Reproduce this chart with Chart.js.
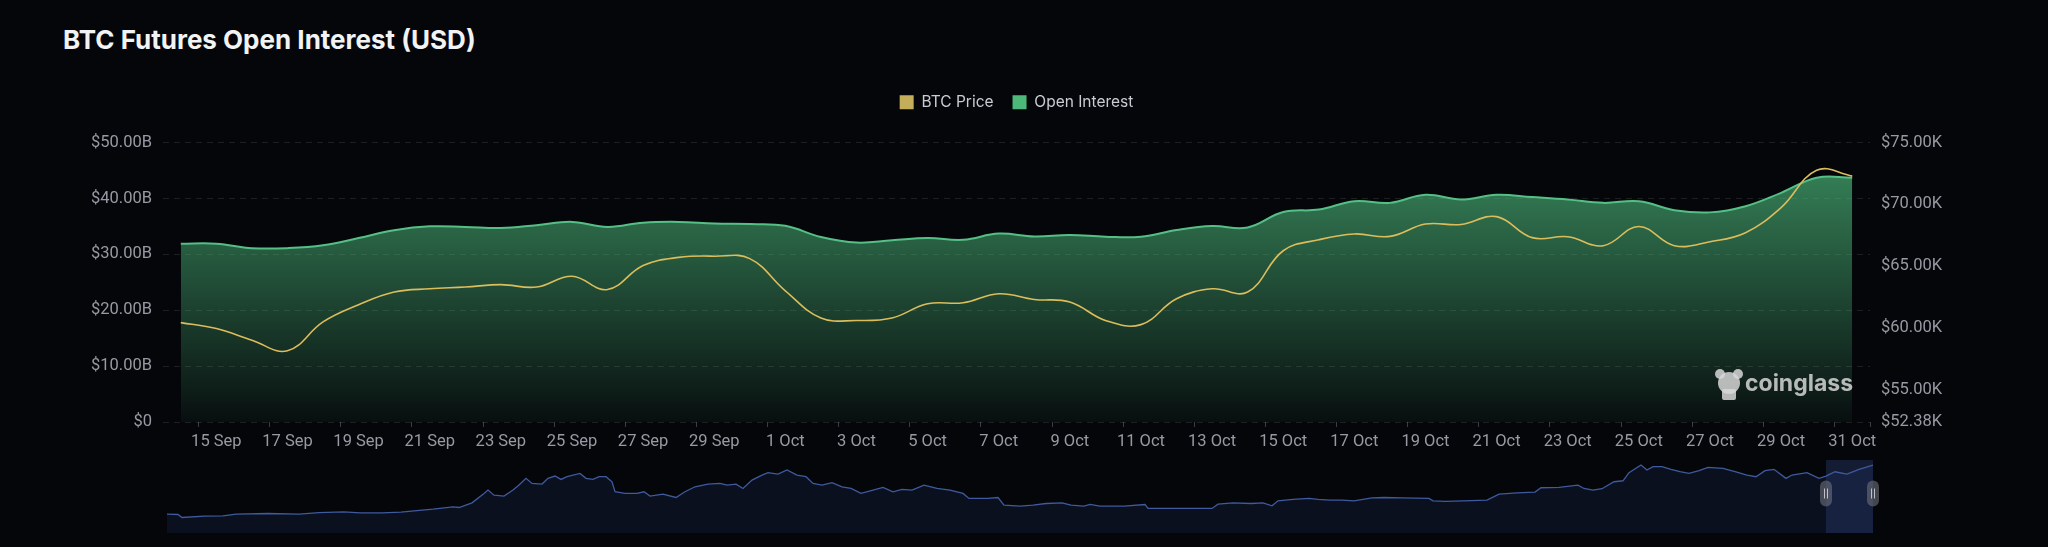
<!DOCTYPE html>
<html><head><meta charset="utf-8">
<script src="https://cdn.jsdelivr.net/npm/chart.js@4.4.1/dist/chart.umd.min.js"></script>
<style>
html,body{margin:0;padding:0;background:#05060a;width:2048px;height:547px;overflow:hidden;}
#title{position:absolute;left:63px;top:24px;font:700 26px Inter, sans-serif;color:#f2f3f5;white-space:nowrap}
#main{position:absolute;left:0;top:0;}
#nav{position:absolute;left:157px;top:455px;}
</style></head><body>
<div id="title">BTC Futures Open Interest (USD)</div>
<canvas id="main" width="2048" height="458"></canvas>
<canvas id="nav" width="1726" height="84"></canvas>
<script>
const categories = ["14 Sep","15 Sep","16 Sep","17 Sep","18 Sep","19 Sep","20 Sep","21 Sep","22 Sep","23 Sep","24 Sep","25 Sep","26 Sep","27 Sep","28 Sep","29 Sep","30 Sep","1 Oct","2 Oct","3 Oct","4 Oct","5 Oct","6 Oct","7 Oct","8 Oct","9 Oct","10 Oct","11 Oct","12 Oct","13 Oct","14 Oct","15 Oct","16 Oct","17 Oct","18 Oct","19 Oct","20 Oct","21 Oct","22 Oct","23 Oct","24 Oct","25 Oct","26 Oct","27 Oct","28 Oct","29 Oct","30 Oct","31 Oct"];
// Open interest, billions USD
const openInterest = [31.9,31.9,31.1,31.1,31.6,32.9,34.3,35.0,34.9,34.7,35.2,35.8,34.9,35.65,35.8,35.5,35.4,35.1,33.1,32.1,32.5,32.9,32.6,33.7,33.2,33.45,33.15,33.15,34.35,35.06,34.8,37.56,38.0,39.5,39.2,40.65,39.8,40.65,40.24,39.8,39.2,39.5,37.9,37.5,38.6,41.0,43.7,43.7];
// BTC price, USD
const btcPrice = [60420,59940,59000,58140,60480,61870,62900,63160,63300,63500,63300,64180,63100,65040,65700,65800,65600,63000,60800,60600,60800,61950,62030,62760,62300,62090,60600,60260,62350,63160,62900,66240,67130,67600,67400,68400,68360,69000,67300,67370,66650,68200,66650,66970,67700,69730,72760,72280];
const leftTicks = [0,10,20,30,40,50];
const rightTicks = [52380,55000,60000,65000,70000,75000];
// navigator: full BTC price history (days from start, price in K USD)
const navDay = [0,11,15,37,56,69,101,132,152,177,193,215,234,247,266,286,292,305,317,321,327,337,346,352,359,365,375,381,388,394,400,413,419,426,432,439,445,448,458,470,477,483,496,509,518,528,541,553,560,569,576,585,595,601,611,620,630,639,646,655,665,675,684,694,706,716,726,735,745,757,770,783,796,802,821,831,837,853,866,879,895,904,917,923,933,957,978,981,1006,1024,1045,1051,1066,1084,1096,1105,1111,1126,1142,1151,1163,1175,1187,1205,1217,1235,1262,1266,1278,1296,1320,1332,1350,1368,1374,1392,1411,1417,1426,1435,1447,1456,1462,1474,1480,1486,1495,1504,1513,1522,1532,1541,1556,1568,1580,1589,1598,1607,1619,1625,1640,1652,1659,1668,1680,1692,1706];
const navPrice = [9.0,8.6,4.6,6.3,6.8,9.0,9.9,9.0,11.2,12.1,10.8,10.8,11.7,13.4,15.7,18.8,17.9,24.1,36.6,41,34.3,33,41,47.7,56.6,49.9,49,56.6,59.7,55.2,58.8,63.2,56.6,55.2,58.8,58.8,52.1,38.8,36.6,36.6,38.8,33,35.7,31.2,38.8,45.4,49,49.9,47.7,49,43.2,54.3,61,64.1,62.3,67.7,61,58.8,49.9,47.7,50.8,45.4,43.2,36.6,41,44.6,38.8,41.9,41,47.7,43.2,41,36.6,29.9,29.9,31.2,21,19.7,21,23.2,24.1,21,19.7,21.9,19.7,19.7,21.9,16.6,16.6,16.6,16.6,22.3,24.1,23.2,24.1,20.1,26.8,28.6,29.9,28.6,27.7,27.7,26.8,30.8,31.2,30.8,29.9,26.8,25.9,26.8,27.7,35.7,37.4,38.3,44.1,44.6,47.7,43.2,41,42.8,52.1,53.4,64.1,74.3,67.7,72.1,72.1,68.6,65.4,63.2,66.8,71.2,69.9,65.4,61,58.8,66.8,68.6,56.6,61,64.1,56.6,59.7,65.4,62.3,68.6,74.3];
const navWindow = [1659, 1706];

const GREEN = '#4cb97b', GOLD = '#dcbd5c';
const axisFont = {family: 'Roboto, sans-serif', size: 16.5};
const labelColor = '#979aa2';

const legendGapPlugin = {
  id: 'legendGap',
  afterInit(chart) {
    const lg = chart.legend;
    if (!lg) return;
    const orig = lg.fit.bind(lg);
    lg.fit = function () { orig(); this.height += 22.5; };
  }
};

const logoPlugin = {
  id: 'logo',
  afterDatasetsDraw(chart) {
    const c = chart.ctx, a = chart.chartArea;
    const cx = a.right - 141, cy = a.bottom - 38;
    c.save();
    c.fillStyle = 'rgba(215,215,215,0.85)';
    c.beginPath(); c.arc(cx, cy - 1, 11, 0, Math.PI * 2); c.fill();
    c.beginPath(); c.arc(cx - 9, cy - 10, 5, 0, Math.PI * 2); c.fill();
    c.beginPath(); c.arc(cx + 9, cy - 10, 5, 0, Math.PI * 2); c.fill();
    c.beginPath(); c.roundRect(cx - 7, cy + 5, 14, 11, 2); c.fill();
    c.font = '700 23px Inter, sans-serif';
    c.textBaseline = 'middle';
    c.fillText('coinglass', cx + 16, cy);
    c.restore();
  }
};

new Chart(document.getElementById('main'), {
  type: 'line',
  data: {
    labels: categories,
    datasets: [
      {label: 'BTC Price', data: btcPrice, yAxisID: 'y1', borderColor: GOLD, backgroundColor: '#c4ae5a',
       borderWidth: 1.6, pointRadius: 0, tension: 0.4, fill: false},
      {label: 'Open Interest', data: openInterest, yAxisID: 'y', borderColor: '#55c086',
       borderWidth: 2, pointRadius: 0, tension: 0.4, fill: 'origin',
       backgroundColor: (ctx) => {
         const a = ctx.chart.chartArea; if (!a) return 'rgba(76,185,123,0.4)';
         const g = ctx.chart.ctx.createLinearGradient(0, a.top, 0, a.bottom);
         g.addColorStop(0, 'rgba(76,185,123,0.75)');
         g.addColorStop(1, 'rgba(76,185,123,0.05)');
         return g;
       }}
    ]
  },
  options: {
    responsive: false, animation: false, devicePixelRatio: 1,
    layout: {padding: {top: 75.5, left: 0, right: 0, bottom: 0}},
    plugins: {
      tooltip: {enabled: false},
      legend: {
        position: 'top', fullSize: false,
        labels: {
          color: '#c9ccd3', font: {family: 'Inter, sans-serif', size: 15.5}, boxWidth: 14, boxHeight: 14, padding: 19,
          generateLabels: (chart) => chart.data.datasets.map((d, i) => ({
            text: d.label, fillStyle: i === 0 ? '#c4ae5a' : GREEN, strokeStyle: 'transparent', lineWidth: 0,
            fontColor: '#c9ccd3', datasetIndex: i, hidden: false
          }))
        }
      }
    },
    scales: {
      x: {
        offset: true,
        border: {display: false},
        grid: {offset: true, drawOnChartArea: false, drawTicks: true, tickLength: 5,
               color: (ctx) => (ctx.index === undefined || ctx.index % 2 === 1) ? '#3a3d44' : 'rgba(0,0,0,0)'},
        ticks: {color: labelColor, font: axisFont, padding: 5, autoSkip: false, maxRotation: 0,
                callback: (v, i) => i % 2 === 1 ? categories[i] : ''},
        afterFit: (s) => { s.height = 36; }
      },
      y: {
        position: 'left', min: 0, max: 50,
        afterBuildTicks: (s) => { s.ticks = leftTicks.map(v => ({value: v})); },
        border: {display: false, dash: [6, 5]},
        grid: {color: 'rgba(255,255,255,0.10)', drawTicks: false, lineWidth: 1},
        ticks: {color: labelColor, font: axisFont, padding: 11,
                callback: (v) => v === 0 ? '$0' : '$' + v.toFixed(2) + 'B'},
        afterFit: (s) => { s.width = 163; }
      },
      y1: {
        position: 'right', min: 52380, max: 75000,
        afterBuildTicks: (s) => { s.ticks = rightTicks.map(v => ({value: v})); },
        border: {display: false},
        grid: {display: false, drawTicks: false},
        ticks: {color: labelColor, font: axisFont, padding: 11,
                callback: (v) => '$' + (v / 1000).toFixed(2) + 'K'},
        afterFit: (s) => { s.width = 178; }
      }
    }
  },
  plugins: [legendGapPlugin, logoPlugin]
});

const windowPlugin = {
  id: 'win',
  beforeDatasetsDraw(chart) {
    const c = chart.ctx, a = chart.chartArea, xs = chart.scales.x;
    const x0 = xs.getPixelForValue(navWindow[0]), x1 = xs.getPixelForValue(navWindow[1]);
    c.save(); c.fillStyle = 'rgba(50,72,130,0.35)';
    c.fillRect(x0, a.top, x1 - x0, a.bottom - a.top); c.restore();
  },
  afterDraw(chart) {
    const c = chart.ctx, a = chart.chartArea, xs = chart.scales.x;
    const cy = (a.top + a.bottom) / 2 - 3;
    [navWindow[0], navWindow[1]].forEach(v => {
      const x = xs.getPixelForValue(v);
      c.save();
      c.fillStyle = 'rgba(110,114,124,0.6)';
      c.beginPath(); c.roundRect(x - 6, cy - 13, 12, 26, 6); c.fill();
      c.strokeStyle = 'rgba(220,222,228,0.8)'; c.lineWidth = 1;
      c.beginPath(); c.moveTo(x - 1.5, cy - 5); c.lineTo(x - 1.5, cy + 5);
      c.moveTo(x + 1.5, cy - 5); c.lineTo(x + 1.5, cy + 5); c.stroke();
      c.restore();
    });
  }
};

new Chart(document.getElementById('nav'), {
  type: 'line',
  data: {datasets: [{data: navDay.map((d, i) => ({x: d, y: navPrice[i]})), borderColor: '#3f5a9f', borderWidth: 1.3,
    pointRadius: 0, tension: 0, fill: 'start', backgroundColor: 'rgba(35,55,110,0.22)'}]},
  options: {
    responsive: false, animation: false, devicePixelRatio: 1,
    layout: {padding: {left: 10, right: 10, top: 5, bottom: 6}},
    plugins: {legend: {display: false}, tooltip: {enabled: false}},
    scales: {
      x: {type: 'linear', display: false, min: 0, max: 1706},
      y: {display: false, min: -16, max: 81}
    }
  },
  plugins: [windowPlugin]
});
</script>
</body></html>
